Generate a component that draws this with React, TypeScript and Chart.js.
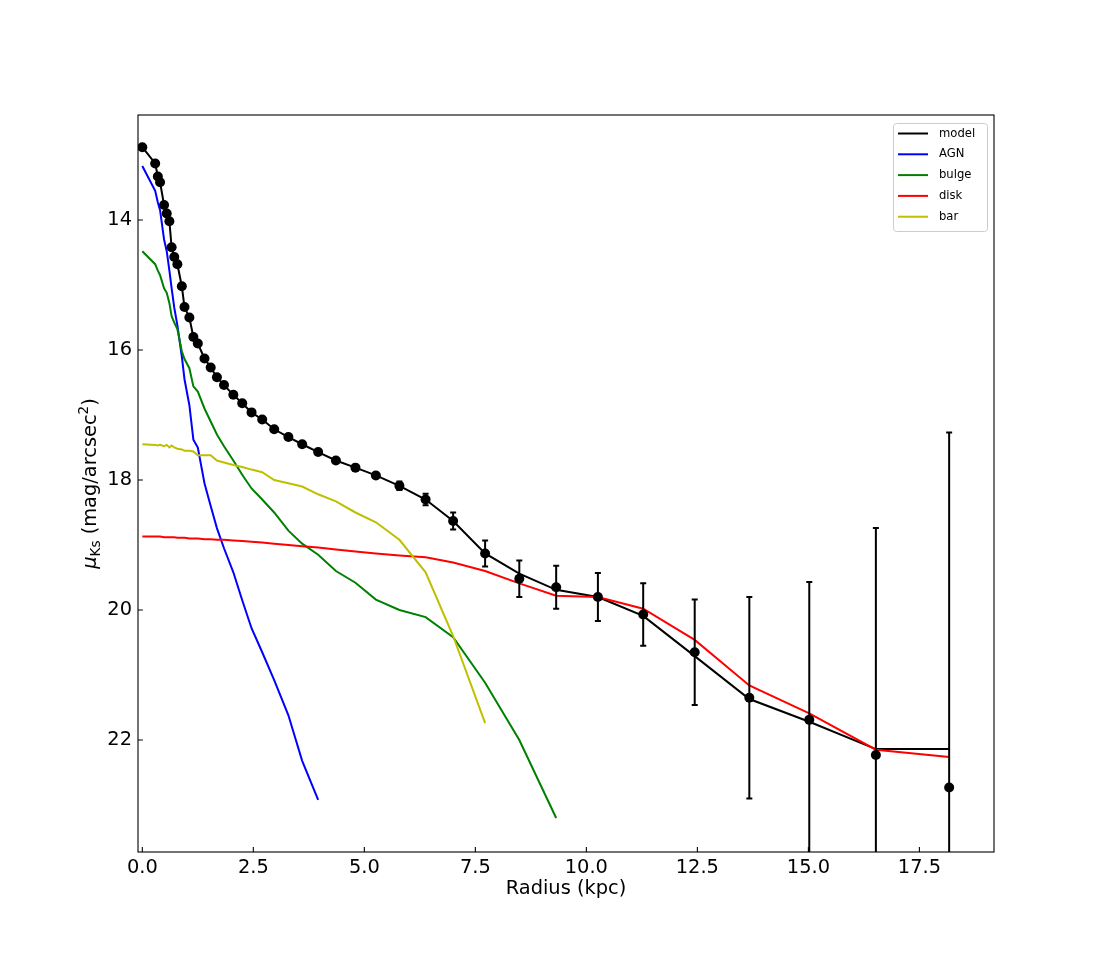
import { useEffect, useRef } from "react";
import { Chart, registerables } from "chart.js";

Chart.register(...registerables);

// radial sample points (kpc)
const radius = [
  0, 0.29, 0.35, 0.4, 0.49, 0.55, 0.61, 0.66, 0.72, 0.79, 0.89, 0.95, 1.06, 1.15, 1.25,
  1.4, 1.54, 1.68, 1.84, 2.05, 2.25, 2.46, 2.7, 2.97, 3.29, 3.6, 3.96, 4.36, 4.8, 5.26,
  5.79, 6.38, 7.0, 7.72, 8.49, 9.32, 10.26, 11.28, 12.44, 13.67, 15.02, 16.52, 18.17,
];

// observed surface brightness and its error
const muObs = [
  12.88, 13.13, 13.33, 13.42, 13.77, 13.9, 14.02, 14.42, 14.57, 14.68, 15.02, 15.34, 15.5, 15.8, 15.9,
  16.13, 16.27, 16.42, 16.54, 16.69, 16.82, 16.96, 17.07, 17.22, 17.34, 17.45, 17.57, 17.7, 17.81, 17.93,
  18.09, 18.3, 18.63, 19.13, 19.52, 19.65, 19.8, 20.07, 20.65, 21.35, 21.69, 22.23, 22.73,
];
const muErr = [
  0.01, 0.01, 0.01, 0.01, 0.01, 0.01, 0.01, 0.01, 0.01, 0.01, 0.01, 0.01, 0.01, 0.01, 0.01,
  0.01, 0.01, 0.01, 0.01, 0.01, 0.01, 0.02, 0.02, 0.02, 0.02, 0.02, 0.03, 0.03, 0.03, 0.04,
  0.065, 0.09, 0.13, 0.2, 0.28, 0.33, 0.37, 0.48, 0.81, 1.55, 2.12, 3.49, 5.46,
];

// fitted components (each covers radius[0 .. n-1])
const muModel = [
  12.88, 13.13, 13.33, 13.42, 13.77, 13.9, 14.02, 14.42, 14.57, 14.68, 15.02, 15.34, 15.5, 15.8, 15.9,
  16.13, 16.27, 16.42, 16.54, 16.69, 16.82, 16.96, 17.07, 17.22, 17.34, 17.45, 17.57, 17.7, 17.81, 17.93,
  18.09, 18.3, 18.63, 19.13, 19.44, 19.69, 19.8, 20.09, 20.71, 21.37, 21.72, 22.14, 22.14,
];
const muAgn = [
  13.17, 13.55, 13.73, 13.85, 14.3, 14.48, 14.78, 15.05, 15.35, 15.62, 16.1, 16.45, 16.85, 17.38, 17.5,
  18.05, 18.4, 18.74, 19.05, 19.42, 19.85, 20.28, 20.65, 21.08, 21.62, 22.32, 22.92,
];
const muBulge = [
  14.48, 14.68, 14.78, 14.85, 15.05, 15.12, 15.28, 15.48, 15.58, 15.68, 16.02, 16.14, 16.28, 16.56, 16.64,
  16.9, 17.1, 17.3, 17.48, 17.7, 17.92, 18.13, 18.3, 18.5, 18.78, 18.98, 19.15, 19.4, 19.58, 19.84,
  20.0, 20.11, 20.42, 21.12, 22.0, 23.2,
];
const muDisk = [
  18.87, 18.87, 18.87, 18.87, 18.88, 18.88, 18.88, 18.88, 18.88, 18.89, 18.89, 18.89, 18.9, 18.9, 18.9,
  18.91, 18.91, 18.92, 18.92, 18.93, 18.94, 18.95, 18.96, 18.98, 19.0, 19.02, 19.04, 19.07, 19.1, 19.13,
  19.16, 19.19, 19.27, 19.4, 19.59, 19.78, 19.8, 19.98, 20.46, 21.16, 21.59, 22.15, 22.26,
];
const muBar = [
  17.45, 17.46, 17.47, 17.46, 17.48, 17.46, 17.5, 17.47, 17.5, 17.52, 17.53, 17.55, 17.55, 17.56, 17.62,
  17.62, 17.62, 17.7, 17.73, 17.77, 17.8, 17.84, 17.88, 18.0, 18.05, 18.1, 18.22, 18.33, 18.5, 18.65,
  18.92, 19.42, 20.4, 21.74,
];

const xTicks = [0, 2.5, 5, 7.5, 10, 12.5, 15, 17.5];
const yTicks = [14, 16, 18, 20, 22];

const FONT = "DejaVu Sans";
const TICK_PX = 19.4;

const toXY = (vals: number[]) => vals.map((v, i) => ({ x: radius[i], y: v }));

const decorPlugin = {
  id: "decor",
  afterDatasetsDraw(chart: any) {
    const { ctx, chartArea: a, scales } = chart;
    const xs = scales.x;
    const ys = scales.y;
    // error bars
    ctx.save();
    ctx.beginPath();
    ctx.rect(a.left, a.top, a.right - a.left, a.bottom - a.top);
    ctx.clip();
    ctx.strokeStyle = "#000";
    ctx.lineWidth = 2;
    radius.forEach((r, i) => {
      const px = xs.getPixelForValue(r);
      const y1 = ys.getPixelForValue(muObs[i] - muErr[i]);
      const y2 = ys.getPixelForValue(muObs[i] + muErr[i]);
      ctx.beginPath();
      ctx.moveTo(px, y1);
      ctx.lineTo(px, y2);
      ctx.moveTo(px - 3, y1);
      ctx.lineTo(px + 3, y1);
      ctx.moveTo(px - 3, y2);
      ctx.lineTo(px + 3, y2);
      ctx.stroke();
    });
    ctx.restore();
  },
  afterDraw(chart: any) {
    const { ctx, chartArea: a, scales } = chart;
    ctx.save();
    // frame
    ctx.strokeStyle = "#000";
    ctx.lineWidth = 1.1;
    ctx.strokeRect(a.left, a.top, a.right - a.left, a.bottom - a.top);
    // inward ticks
    ctx.beginPath();
    xTicks.forEach((v) => {
      const p = scales.x.getPixelForValue(v);
      ctx.moveTo(p, a.bottom);
      ctx.lineTo(p, a.bottom - 4.9);
    });
    yTicks.forEach((v) => {
      const p = scales.y.getPixelForValue(v);
      ctx.moveTo(a.left, p);
      ctx.lineTo(a.left + 4.9, p);
    });
    ctx.stroke();

    // x title
    ctx.fillStyle = "#000";
    ctx.font = `${TICK_PX}px "${FONT}"`;
    ctx.textAlign = "center";
    ctx.textBaseline = "middle";
    ctx.fillText("Radius (kpc)", (a.left + a.right) / 2, a.bottom + 37);

    // y title: mu_{Ks} (mag/arcsec^2)
    const big = `${TICK_PX}px "${FONT}"`;
    const bigIt = `oblique ${TICK_PX}px "${FONT}"`;
    const small = `${TICK_PX * 0.7}px "${FONT}"`;
    const parts = [
      { t: "\u03bc", f: bigIt, dy: 0 },
      { t: "Ks", f: small, dy: 4 },
      { t: " (mag/arcsec", f: big, dy: 0 },
      { t: "2", f: small, dy: -8 },
      { t: ")", f: big, dy: 0 },
    ];
    let total = 0;
    parts.forEach((p) => {
      ctx.font = p.f;
      total += ctx.measureText(p.t).width;
    });
    ctx.translate(96, (a.top + a.bottom) / 2);
    ctx.rotate(-Math.PI / 2);
    ctx.textAlign = "left";
    ctx.textBaseline = "alphabetic";
    let cx = -total / 2;
    parts.forEach((p) => {
      ctx.font = p.f;
      ctx.fillText(p.t, cx, p.dy);
      cx += ctx.measureText(p.t).width;
    });
    ctx.restore();

    // legend
    ctx.save();
    const lx = 893;
    const ly = 123;
    const lw = 94;
    const lh = 108;
    ctx.fillStyle = "rgba(255,255,255,0.8)";
    ctx.strokeStyle = "#cccccc";
    ctx.lineWidth = 1;
    ctx.beginPath();
    ctx.roundRect(lx + 0.5, ly + 0.5, lw, lh, 3);
    ctx.fill();
    ctx.stroke();
    ctx.font = `11.6px "${FONT}"`;
    ctx.textAlign = "left";
    ctx.textBaseline = "middle";
    const legendSets = chart.data.datasets.filter((d: any) => d.inLegend);
    legendSets.forEach((d: any, i: number) => {
      const yy = ly + 10.5 + i * 20.8;
      ctx.strokeStyle = d.borderColor;
      ctx.lineWidth = 2;
      ctx.beginPath();
      ctx.moveTo(lx + 5, yy);
      ctx.lineTo(lx + 35, yy);
      ctx.stroke();
      ctx.fillStyle = "#000";
      ctx.fillText(d.label, lx + 46, yy);
    });
    ctx.restore();
  },
};

export default function App() {
  const canvasRef = useRef<HTMLCanvasElement>(null);
  const chartRef = useRef<Chart | null>(null);

  useEffect(() => {
    if (!canvasRef.current) return;
    if (chartRef.current) chartRef.current.destroy();

    Chart.defaults.font.family = FONT;
    Chart.defaults.color = "#000";

    const lineSet = (label: string, vals: number[], color: string, order: number) => ({
      type: "line" as const,
      label,
      data: toXY(vals),
      borderColor: color,
      backgroundColor: color,
      borderWidth: 2,
      pointRadius: 0,
      tension: 0,
      order,
      inLegend: true,
    });

    chartRef.current = new Chart(canvasRef.current, {
      type: "line",
      data: {
        datasets: [
          {
            type: "scatter",
            label: "data",
            data: toXY(muObs),
            backgroundColor: "#000",
            borderColor: "#000",
            borderWidth: 0,
            pointRadius: 5,
            showLine: false,
            order: 0,
            inLegend: false,
          } as any,
          lineSet("model", muModel, "#000000", 6),
          lineSet("AGN", muAgn, "#0000ff", 5),
          lineSet("bulge", muBulge, "#008000", 4),
          lineSet("disk", muDisk, "#ff0000", 3),
          lineSet("bar", muBar, "#bfbf00", 2),
        ],
      },
      options: {
        animation: false,
        responsive: true,
        maintainAspectRatio: false,
        layout: { padding: { left: 0, top: 115, right: 110, bottom: 0 } },
        plugins: { legend: { display: false }, tooltip: { enabled: false } },
        scales: {
          x: {
            type: "linear",
            min: -0.097,
            max: 19.18,
            grid: { display: false, drawTicks: false },
            border: { display: false },
            afterBuildTicks: (s: any) => {
              s.ticks = xTicks.map((v) => ({ value: v }));
            },
            afterFit: (s: any) => {
              s.height = 105;
            },
            ticks: {
              autoSkip: false,
              maxRotation: 0,
              padding: 4,
              font: { size: TICK_PX },
              callback: (v: any) => Number(v).toFixed(1),
            },
          },
          y: {
            type: "linear",
            reverse: true,
            min: 12.385,
            max: 23.723,
            grid: { display: false, drawTicks: false },
            border: { display: false },
            afterBuildTicks: (s: any) => {
              s.ticks = yTicks.map((v) => ({ value: v }));
            },
            afterFit: (s: any) => {
              s.width = 138;
            },
            ticks: {
              autoSkip: false,
              padding: 6,
              font: { size: TICK_PX },
              callback: (v: any) => String(v),
            },
          },
        },
      },
      plugins: [decorPlugin],
    });

    return () => {
      if (chartRef.current) {
        chartRef.current.destroy();
        chartRef.current = null;
      }
    };
  }, []);

  return (
    <div style={{ position: "absolute", left: 0, top: 0, width: 1104, height: 957, background: "#fff" }}>
      <canvas ref={canvasRef}></canvas>
    </div>
  );
}
